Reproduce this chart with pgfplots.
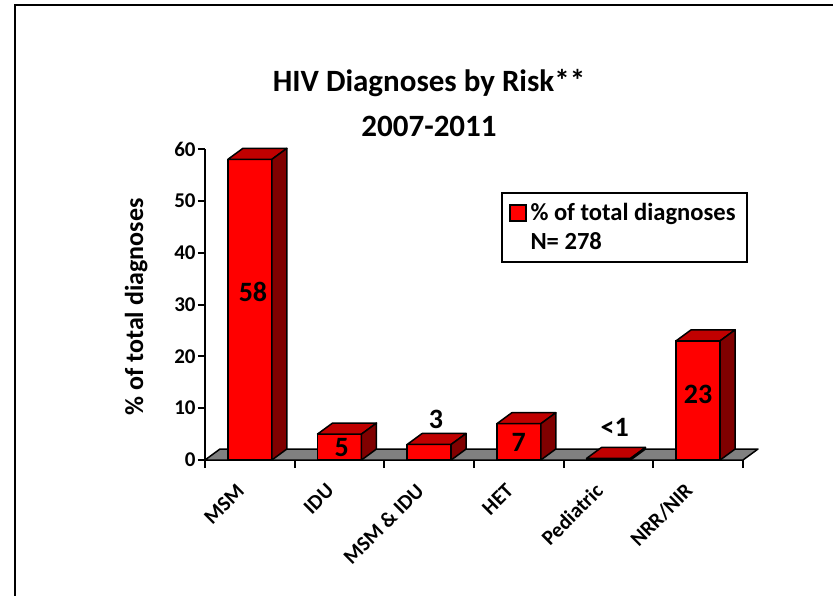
\documentclass[border=0pt]{standalone}
\usepackage{fontspec}
\setmainfont{Carlito}
\usepackage{pgfplots}
\usepackage{pgfplotstable}
\pgfplotsset{compat=1.18}

\definecolor{barfront}{HTML}{FF0000}
\definecolor{bartop}{HTML}{C00000}
\definecolor{barside}{HTML}{800000}
\definecolor{floorgray}{HTML}{808080}

% share of diagnoses by risk group (percent)
\pgfplotstableread{
x val
0 58
1 5
2 3
3 7
4 0.3
5 23
}\risk

% value labels and where they sit
\pgfplotstableread{
x ly lab
0.035 32.5 58
1.025 2.4 5
2.076 7.8 3
3.0 3.4 7
4.07 6.3 <1
5.0 12.6 23
}\labels

\begin{document}
\begin{tikzpicture}
\useasboundingbox (-102.5pt,-67.5pt) rectangle (314pt,230pt);
\fill[white] (-102.5pt,-67.5pt) rectangle (314pt,230pt);
\begin{axis}[
  scale only axis,
  width=269pt, height=155.5pt,
  xmin=-0.5, xmax=5.5, ymin=0, ymax=60,
  clip=false,
  separate axis lines,
  axis x line*=bottom, axis y line*=left,
  axis line style={-, line width=1pt},
  tick align=outside,
  tick style={line width=1pt, black},
  major tick length=3.5pt,
  minor tick length=4pt,
  xtick={0,...,5},
  xticklabels={MSM,IDU,MSM \& IDU,HET,Pediatric,NRR/NIR},
  minor xtick={-0.5,0.5,...,5.5},
  major x tick style={draw=none},
  ytick={0,10,...,60},
  /pgf/number format/assume math mode=true,
  xticklabel style={xshift=-4.5pt, yshift=-10pt, rotate=45, anchor=east,
    inner sep=0pt, font=\fontsize{10.5}{12}\selectfont\bfseries},
  yticklabel style={anchor=east, inner sep=0pt, xshift=-1pt,
    font=\fontsize{10.5}{12}\selectfont\bfseries},
  ylabel={\% of total diagnoses},
  ylabel style={at={(axis description cs:-0.128,0.492)}, anchor=center,
    font=\fontsize{13}{15}\selectfont\bfseries},
  legend style={at={(axis description cs:0.5502,0.8617)}, anchor=north west,
    draw=black, line width=1pt, inner xsep=3.5pt, inner ysep=3pt,
    font=\fontsize{12.3}{14}\selectfont\bfseries, cells={anchor=west},
    row sep=0.5pt},
  legend image code/.code={\draw[#1, line width=0.75pt] (0pt,-4pt) rectangle (8pt,4pt);},
]
% floor
\fill[floorgray, draw=black, line width=0.75pt, line join=round]
  (axis cs:-0.5,0) -- (axis cs:5.5,0) -- (axis cs:5.6673,2.122)
  -- (axis cs:-0.3327,2.122) -- cycle;

% front faces
\addplot[ybar, bar width=0.49, fill=barfront, draw=black, line width=0.75pt]
  table[x=x, y=val]{\risk};
\addlegendentry{\% of total diagnoses}
\addlegendimage{empty legend}
\addlegendentry{N= 278}

% top and side faces of each bar
\addplot[forget plot, scatter, only marks, mark=*, mark size=0pt,
  mark options={draw=none, fill=none},
  visualization depends on={rawy \as \barval},
  scatter/@pre marker code/.code={%
    \pgfmathsetmacro\barh{\barval*2.5917}%
    \fill[bartop, draw=black, line width=0.75pt, line join=round]
      (-11pt,0pt) -- (11pt,0pt) -- (18.5pt,5.5pt) -- (-3.5pt,5.5pt) -- cycle;
    \fill[barside, draw=black, line width=0.75pt, line join=round]
      (11pt,0pt) -- (18.5pt,5.5pt) -- ({18.5pt},{5.5pt-\barh pt}) -- ({11pt},{-\barh pt}) -- cycle;
  },
  scatter/@post marker code/.code={},
] table[x=x, y=val]{\risk};

% value labels
\addplot[forget plot, draw=none, nodes near coords, point meta=explicit symbolic,
  nodes near coords style={anchor=center, inner sep=0pt,
    font=\fontsize{14}{16}\selectfont\bfseries}]
  table[x=x, y=ly, meta=lab]{\labels};
\end{axis}

\node[anchor=base, font=\fontsize{15.5}{18}\selectfont\bfseries] at (112pt,184pt) {HIV Diagnoses by Risk**};
\node[anchor=base, font=\fontsize{15.5}{18}\selectfont\bfseries] at (112pt,161.5pt) {2007-2011};
\draw[line width=1pt] (-95pt,-80pt) -- (-95pt,227.5pt) -- (330pt,227.5pt);
\end{tikzpicture}
\end{document}
